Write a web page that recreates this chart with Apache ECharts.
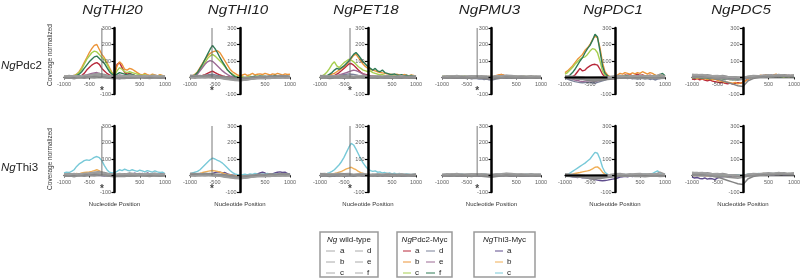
<!DOCTYPE html>
<html><head><meta charset="utf-8">
<script src="https://cdn.jsdelivr.net/npm/echarts@6/dist/echarts.min.js"></script>
<style>html,body{margin:0;padding:0;background:#fff}#c{width:800px;height:278px}</style>
</head><body><div id="c"></div>
<script>
// ---------- data ----------
const genes = ['THI20','THI10','PET18','PMU3','PDC1','PDC5'];
const rowNames = ['Pdc2','Thi3'];
const legendTitles = ['wild-type','Pdc2-Myc','Thi3-Myc'];
const wtLetters = ['a','b','c','d','e','f'];
const pdc2Letters = ['a','b','c','d','e','f'];
const thi3Letters = ['a','b','c'];
const xTickLabels = [-1000,-500,500,1000];
const yTickLabels = [300,200,100,-100];
const X21 = [-1000,-900,-800,-700,-600,-500,-400,-300,-200,-100,0,100,200,300,400,500,600,700,800,900,1000];
const X41 = [-1000,-950,-900,-850,-800,-750,-700,-650,-600,-550,-500,-450,-400,-350,-300,-250,-200,-150,-100,-50,0,50,100,150,200,250,300,350,400,450,500,550,600,650,700,750,800,850,900,950,1000];
const markerX = [-250,-560,-375,-290,null,null];
const asteriskY = -82;
const pdc1Bar = [-1000,-150];

// wild-type (6 series each, X21)
const wtTHI20 = [
 [5,8,3,10,6,12,15,20,18,8,4,6,10,5,8,12,6,9,4,7,5],
 [-3,2,0,5,3,8,10,12,8,3,-2,0,4,2,5,3,1,4,2,0,3],
 [10,6,12,8,14,10,18,15,12,10,6,12,8,15,10,6,12,10,14,8,10],
 [0,-4,2,-2,4,0,6,4,2,-3,-6,-2,0,-4,2,0,-2,3,0,-3,1],
 [6,12,8,4,10,15,20,25,15,10,8,4,6,10,4,8,5,10,6,4,8],
 [-6,-2,-8,0,-4,2,-2,5,0,-5,-8,-4,-6,-2,-5,0,-3,-6,-2,-5,-2]];
const wtTHI10 = [
 [10,12,8,14,10,6,8,4,0,-6,-10,-12,-8,-4,0,4,2,6,4,8,6],
 [4,6,2,8,5,0,2,-4,-8,-12,-15,-14,-10,-6,-2,0,-3,2,0,3,2],
 [-2,2,0,4,0,-4,-2,-8,-12,-15,-18,-16,-12,-8,-6,-4,-6,-2,-4,0,-2],
 [8,4,10,6,12,8,4,2,-2,-4,-8,-6,-2,0,4,2,6,3,5,2,4],
 [0,-3,2,-2,3,-2,-5,-10,-14,-18,-20,-15,-10,-8,-4,-6,-2,-4,0,-3,0],
 [14,10,12,8,6,4,2,0,-4,-8,-6,-2,2,4,8,6,10,8,12,10,8]];
const wtPET18 = [
 [6,4,8,5,10,6,8,4,6,3,5,8,4,6,3,5,2,4,6,3,5],
 [0,2,-2,3,0,4,2,-1,3,0,-2,2,0,3,-1,1,-2,0,2,-1,0],
 [10,12,8,10,14,10,12,8,10,12,8,6,10,8,12,6,8,10,6,8,10],
 [-4,-2,-6,-3,-1,-5,-2,-4,0,-3,-5,-2,-4,-1,-3,-5,-2,-4,-1,-3,-4],
 [3,6,4,8,5,2,6,3,5,8,4,2,5,3,6,2,4,6,3,5,2],
 [12,8,6,4,8,10,6,2,4,6,2,0,4,2,6,8,4,2,5,3,6]];
const wtPMU3 = [
 [4,2,6,3,5,2,4,6,3,5,2,4,6,8,5,3,6,4,2,5,3],
 [-2,0,-3,1,-1,-4,0,-2,1,-3,0,2,-1,3,0,-2,1,-1,0,-3,-1],
 [8,6,10,7,9,6,8,10,7,9,6,10,8,12,9,7,10,8,6,9,7],
 [0,-4,-2,-5,-1,-3,-6,-2,-4,-8,-10,-6,-3,-1,-4,-2,-5,-3,-1,-4,-2],
 [6,10,8,12,6,9,11,7,10,6,4,8,10,14,12,9,6,8,10,6,8],
 [2,-1,3,0,4,1,-2,2,0,3,5,2,-1,4,2,0,3,1,-1,2,0]];
const wtPDC1 = [
 [4,2,0,-4,-8,-10,-12,-8,-6,-4,0,2,4,2,6,3,5,2,4,3,6],
 [-2,-4,-6,-10,-14,-16,-18,-14,-10,-8,-4,-2,0,-3,0,-2,-4,-1,-3,-2,0],
 [8,6,4,2,-2,-4,-6,-2,0,2,6,8,6,10,8,6,9,7,10,8,6],
 [0,-2,-4,-8,-12,-20,-22,-18,-14,-10,-6,-4,-2,0,-2,2,0,-3,-1,0,-2],
 [10,8,6,4,0,-2,0,2,4,6,10,12,8,6,10,12,8,10,6,20,8],
 [-4,-6,-8,-6,-10,-12,-10,-14,-8,-6,-2,0,-4,-2,-6,-4,-8,-5,-3,-6,-4]];
const wtPDC5 = [
 [15,18,12,16,10,8,12,6,4,2,0,6,10,8,12,10,14,12,16,10,14],
 [10,6,8,4,2,-2,-6,-10,-14,-16,-10,-4,2,6,4,8,6,10,8,12,10],
 [20,16,18,14,10,12,8,4,0,-2,-4,2,6,10,8,12,10,14,12,8,10],
 [5,8,4,2,-4,-10,-20,-30,-40,-50,-55,-20,-6,0,4,2,6,4,8,6,4],
 [12,10,14,8,6,4,6,2,4,0,2,8,12,10,14,16,12,18,14,12,16],
 [0,2,-2,0,-4,-6,-4,-8,-10,-8,-6,-2,0,4,2,6,4,8,6,4,6]];

// NgPdc2-Myc (a..f, X41)
const pdc2THI20 = [
 [0,2,-2,3,2,5,8,12,25,45,60,75,85,90,80,55,40,25,15,10,20,80,90,60,30,20,25,18,12,10,8,5,10,4,2,6,4,0,5,2,0],
 [5,8,4,10,12,20,35,60,90,120,150,175,195,200,170,140,120,90,60,30,20,70,95,80,50,45,55,50,40,30,20,15,25,18,12,20,15,10,18,12,8],
 [4,6,3,8,10,18,30,50,80,110,130,150,160,155,140,120,110,80,50,25,15,40,60,50,35,30,35,30,25,20,15,12,18,10,8,14,10,6,12,8,5],
 [0,3,-2,4,2,6,8,5,10,12,15,18,22,25,20,15,10,6,4,2,0,-5,-8,-4,0,2,-2,0,3,-1,0,2,-3,0,2,-2,0,3,0,-2,0],
 [2,4,0,6,3,8,6,10,12,15,20,25,28,30,25,20,12,8,5,3,4,10,15,12,8,6,4,8,5,2,4,6,2,5,3,6,2,4,1,3,2],
 [2,5,0,6,8,12,20,35,55,75,95,110,125,130,115,100,85,60,35,20,10,20,30,25,20,15,20,18,12,10,8,6,10,5,4,8,6,3,6,4,2]];
const pdc2THI10 = [
 [0,2,-2,4,8,12,18,25,32,38,30,22,15,10,6,4,2,0,-2,-4,-6,-10,-8,-4,0,2,-2,3,0,4,2,-1,3,0,2,5,1,3,0,2,1],
 [5,10,20,35,60,85,110,130,145,155,160,162,150,125,100,75,50,35,25,15,10,15,20,12,18,25,15,20,22,18,25,20,15,22,18,25,20,15,22,18,20],
 [2,8,15,28,45,65,90,115,130,140,130,115,100,85,65,45,30,20,10,5,0,5,-2,4,8,3,6,10,5,8,4,6,2,5,8,3,6,4,7,2,5],
 [0,3,-1,4,6,8,12,15,18,20,16,12,8,5,2,0,-2,-5,-8,-10,-12,-15,-14,-10,-6,-4,-2,0,-3,2,0,-2,1,3,0,2,-1,1,3,0,2],
 [0,4,10,20,40,60,80,95,102,98,85,70,55,40,28,18,10,5,2,0,-5,-10,-12,-8,-5,-2,0,3,-2,2,5,0,3,-1,2,4,0,3,1,-2,2],
 [0,5,15,30,55,80,110,140,170,195,175,150,120,95,70,45,30,15,5,0,-5,-10,-8,-4,0,5,8,4,10,6,8,4,10,6,12,8,5,10,6,8,4]];
const pdc2PET18 = [
 [0,2,5,3,6,8,12,20,30,42,55,68,82,85,75,60,45,32,22,18,15,10,8,5,3,6,4,2,5,3,1,4,2,0,3,1,2,0,3,1,2],
 [5,8,12,10,15,20,25,35,45,55,65,80,95,115,135,140,120,100,80,65,55,50,45,40,35,30,28,25,22,20,18,15,20,16,12,18,14,10,15,12,8],
 [5,10,20,35,55,80,95,70,60,75,90,100,110,105,95,80,65,55,45,40,35,40,30,25,20,15,18,12,10,14,8,10,6,9,5,8,4,7,3,6,4],
 [0,2,4,3,6,5,8,10,12,15,18,20,22,20,18,15,12,10,8,5,3,2,0,3,-1,2,0,-2,1,3,0,2,-1,1,0,2,-1,0,1,-1,0],
 [2,5,3,8,6,10,8,12,15,20,25,30,35,40,45,42,35,28,20,15,10,8,6,10,5,8,4,6,3,5,2,4,1,3,5,2,4,1,3,2,0],
 [0,4,8,12,20,30,45,55,50,60,70,85,100,120,140,152,135,115,95,80,65,55,45,55,40,35,45,30,25,20,18,22,15,12,18,10,14,8,12,10,6]];
const pdc2PMU3 = [
 [0,2,-1,3,1,-2,2,0,3,-1,1,2,0,-2,3,1,0,2,-1,1,0,5,10,14,18,12,8,4,2,5,1,3,0,2,-1,3,1,0,2,-1,1],
 [4,6,2,5,8,3,6,4,7,2,5,3,6,4,8,5,3,6,4,7,5,8,12,15,18,14,10,8,6,9,5,7,4,6,3,5,8,4,6,3,5],
 [6,8,5,9,7,10,6,8,5,9,7,4,8,6,9,5,7,3,6,4,2,4,6,8,5,7,4,6,3,5,7,4,6,8,5,7,4,6,3,5,4],
 [-2,0,-3,1,-1,-4,0,-2,-5,-3,-6,-4,-8,-5,-7,-10,-8,-12,-10,-14,-16,-12,-8,-6,-4,-2,-5,-3,-1,-4,-2,0,-3,-1,-4,-2,0,-3,-1,-2,0],
 [3,1,4,2,5,3,1,4,2,5,3,6,4,2,5,3,1,4,2,0,-2,2,4,6,3,5,2,4,1,3,5,2,4,1,3,2,4,1,3,2,1],
 [2,4,1,5,3,6,2,4,7,3,5,2,4,6,3,5,2,4,1,3,0,3,5,7,4,6,3,5,2,4,6,3,5,2,4,1,3,5,2,4,2]];
const pdc2PDC1 = [
 [0,2,0,5,15,35,55,40,45,60,70,78,80,75,50,20,5,0,-5,-8,-5,5,10,8,15,12,18,10,14,20,12,16,10,8,14,10,6,12,8,4,10],
 [30,40,55,70,90,110,125,140,165,180,200,230,250,240,180,90,35,15,5,0,5,15,25,20,30,25,20,28,22,30,25,35,28,20,30,25,15,10,18,12,8],
 [20,30,45,60,80,95,110,120,125,140,160,175,170,150,100,40,15,5,0,-3,0,5,10,8,12,6,10,8,5,9,6,10,7,4,8,6,10,5,8,12,6],
 [-5,-10,-15,-20,-25,-28,-30,-32,-30,-28,-30,-32,-35,-30,-25,-20,-15,-10,-8,-5,-2,0,-3,-5,-2,-6,-4,-8,-5,-10,-6,-3,-8,-5,-12,-8,-15,-10,-6,-4,-2],
 [0,-3,-6,-10,-15,-18,-22,-25,-22,-20,-18,-22,-25,-20,-15,-10,-6,-3,0,2,0,-2,0,3,-1,2,-3,0,4,1,-2,2,0,-4,1,3,-1,2,0,-2,1],
 [0,5,15,30,50,75,100,120,150,175,195,225,262,245,160,70,25,10,0,-5,-8,0,5,10,6,12,8,4,10,6,12,8,5,10,4,8,12,6,18,25,10]];
const pdc2PDC5 = [
 [-8,-12,-6,-14,-10,-16,-20,-15,-22,-25,-28,-32,-30,-35,-38,-34,-40,-36,-32,-35,-28,-18,-8,2,6,10,4,8,12,6,10,14,8,12,6,10,14,8,12,6,8],
 [-5,-2,-8,-4,-10,-6,-12,-8,-15,-10,-18,-22,-25,-30,-28,-32,-35,-30,-38,-34,-30,-20,-10,0,5,10,8,14,10,18,12,8,15,20,12,16,10,14,8,12,10],
 [2,5,0,4,-2,3,-4,0,-6,-2,-8,-10,-6,-12,-8,-14,-10,-15,-12,-8,-10,-5,0,4,2,6,3,8,5,10,6,4,8,5,10,6,3,7,4,8,5],
 [10,14,8,12,6,10,4,8,2,6,0,4,-2,2,-4,0,-6,-2,-8,-4,-6,-2,2,6,4,8,6,10,8,12,10,14,12,10,14,12,16,12,14,10,12],
 [5,8,3,6,2,5,0,3,-2,1,-4,-1,-6,-3,-8,-5,-10,-6,-4,-8,-5,0,4,2,6,4,8,5,10,7,12,9,6,10,8,12,9,11,8,10,7],
 [0,-3,2,-2,-5,-1,-4,-8,-3,-6,-10,-5,-8,-12,-6,-10,-14,-8,-12,-10,-6,-2,3,0,5,2,7,4,9,6,3,8,5,10,6,4,8,5,9,6,4]];

// NgThi3-Myc (a..c, X41)
const thi3THI20 = [
 [2,4,0,3,1,5,2,4,0,3,6,2,4,1,3,0,-2,1,-1,0,-2,2,5,8,6,10,12,8,14,10,6,12,8,15,10,6,12,8,10,14,8],
 [5,8,4,10,8,12,10,15,18,20,22,25,30,35,28,20,12,8,5,3,2,5,8,4,10,6,12,8,5,9,6,3,7,4,8,5,2,6,3,5,2],
 [15,20,18,25,35,55,70,80,90,95,92,100,110,115,108,90,60,35,20,15,18,25,35,30,38,32,28,35,30,25,32,28,22,30,25,20,28,22,18,20,12]];
const thi3THI10 = [
 [0,2,-1,3,1,4,2,5,8,12,18,22,20,15,18,10,5,2,0,-2,-3,-1,2,4,0,3,6,10,15,20,15,8,5,10,15,20,22,18,20,12,6],
 [0,3,5,8,12,18,22,25,28,30,28,25,20,15,10,6,3,0,-2,0,-2,2,4,1,5,3,6,2,4,1,5,3,6,2,4,1,5,3,2,4,1],
 [10,15,20,25,35,50,65,80,95,105,100,92,85,75,60,45,30,18,10,5,2,5,8,4,10,6,12,8,5,10,6,12,8,5,9,6,10,7,4,8,5]];
const thi3PET18 = [
 [0,-2,1,-1,2,0,-3,1,-1,2,0,-2,1,3,0,-1,2,0,-2,1,0,2,-1,3,0,2,-2,1,3,0,-1,2,0,3,1,-2,0,2,-1,1,0],
 [0,2,5,3,8,10,12,15,20,25,32,40,45,50,42,35,25,18,12,8,5,3,6,2,5,8,4,6,3,5,2,4,6,3,5,2,4,1,3,5,2],
 [5,8,10,12,18,25,35,50,65,85,110,140,170,195,185,160,130,100,75,55,40,30,25,28,20,22,15,18,12,15,10,14,8,12,10,6,10,8,5,8,6]];
const thi3PMU3 = [
 [0,-2,1,-3,-1,2,-2,0,-4,-1,-3,0,-2,1,-3,-5,-2,-4,-1,-3,-4,-2,0,-3,1,-1,2,-2,0,-3,1,-1,-4,-2,0,-3,1,-1,2,-2,0],
 [2,0,3,1,-1,2,4,0,3,1,5,2,0,3,-1,2,4,1,3,0,-2,1,3,0,4,2,5,1,3,6,2,4,0,3,1,4,2,0,3,1,2],
 [4,6,3,7,5,8,4,6,9,5,7,4,8,6,3,7,5,9,6,4,2,5,8,6,10,7,4,8,5,9,6,3,7,4,8,5,9,6,4,7,5]];
const thi3PDC1 = [
 [0,-2,-5,-8,-10,-12,-10,-14,-12,-15,-18,-22,-25,-28,-30,-32,-30,-28,-25,-22,-20,-15,-10,-8,-5,-8,-4,-6,-2,-5,0,-3,-1,2,-2,0,3,-1,1,-2,0],
 [0,2,5,8,12,15,18,22,25,28,32,40,50,52,40,20,8,2,0,-2,0,2,4,1,5,3,6,2,4,7,3,5,2,6,4,1,5,3,6,2,4],
 [0,5,15,25,35,45,55,65,75,88,100,120,140,135,100,50,20,8,0,-2,0,2,5,3,6,4,8,5,3,7,4,6,10,5,8,12,20,28,15,8,5]];
const thi3PDC5 = [
 [-10,-15,-12,-18,-20,-15,-22,-18,-20,-25,-15,-10,-8,-5,-3,-6,-2,-4,0,-3,0,2,4,1,5,3,6,2,5,8,4,6,3,7,5,8,4,6,9,5,7],
 [2,0,3,-1,2,0,-2,1,3,0,-2,2,-1,3,0,2,-2,1,0,-1,2,4,6,3,8,5,10,7,12,9,6,10,8,12,9,14,10,8,12,10,8],
 [4,2,6,3,5,1,4,2,6,3,0,4,2,5,1,3,0,2,4,1,3,5,8,6,10,7,12,9,6,10,8,12,10,14,11,8,12,10,13,9,11]];

// ---------- styles / layout ----------
const wtColors = ['#8c8c8c','#979797','#a2a2a2','#848484','#9c9c9c','#8f8f8f'];
const pdc2Colors = ['#b8283a','#ec9438','#a6cf4e','#7b8199','#9c6a94','#2f7a55'];
const thi3Colors = ['#5e4c8c','#f0ae55','#78c9d8'];
const wtLegendColor = '#aaaaaa';
const FONT = '"Liberation Sans", Arial, Helvetica, sans-serif';
const colLeft = [64,190,320,442,565,692];
const colWidth = [101,100,96,99,100,102];
const rowTop = [28,126];
const rowH = 66;

const wtAll = [wtTHI20,wtTHI10,wtPET18,wtPMU3,wtPDC1,wtPDC5];
const pdc2All = [pdc2THI20,pdc2THI10,pdc2PET18,pdc2PMU3,pdc2PDC1,pdc2PDC5];
const thi3All = [thi3THI20,thi3THI10,thi3PET18,thi3PMU3,thi3PDC1,thi3PDC5];

const pairs = (xs, ys) => ys.map((y,i)=>[xs[i], y]);
const grids=[], xAxes=[], yAxes=[], series=[], graphics=[];
const tickLabelStyle = {fontSize:5.5,color:'#333',fontFamily:FONT};

for (let r=0;r<2;r++){
  for (let c=0;c<6;c++){
    const gi = r*6+c;
    grids.push({left:colLeft[c], top:rowTop[r], width:colWidth[c], height:rowH, containLabel:false, outerBoundsMode:'none', show:false});
    xAxes.push({gridIndex:gi, type:'value', min:-1000, max:1000, interval:500, z:1,
      axisLine:{show:true,onZero:true,lineStyle:{color:'#222',width:1.4}},
      axisTick:{show:true,length:2,lineStyle:{color:'#222',width:1}},
      axisLabel:{show:false}, splitLine:{show:false}});
    yAxes.push({gridIndex:gi, type:'value', min:-100, max:300, interval:100, z:6,
      axisLine:{show:true,onZero:true,lineStyle:{color:'#000',width:2.5}},
      axisTick:{show:true,length:3,lineStyle:{color:'#000',width:1.2}},
      axisLabel:{show:false}, splitLine:{show:false}});
    const col = r===0 ? pdc2All[c] : thi3All[c];
    const cols = r===0 ? pdc2Colors : thi3Colors;
    col.forEach((ys,k)=>series.push({type:'line',xAxisIndex:gi,yAxisIndex:gi,data:pairs(X41,ys),symbol:'none',silent:true,z:2,
      lineStyle:{color:cols[k],width:1.4}}));
    wtAll[c].forEach((ys,k)=>series.push({type:'line',xAxisIndex:gi,yAxisIndex:gi,data:pairs(X21,ys),symbol:'none',silent:true,z:3,
      lineStyle:{color:wtColors[k],width:1.5}}));
    // tick labels through the axes' scales
    series.push({type:'scatter',xAxisIndex:gi,yAxisIndex:gi,data:yTickLabels.map(v=>[0,v]),symbol:'circle',symbolSize:1,silent:true,z:7,
      itemStyle:{color:'rgba(0,0,0,0)'},
      label:Object.assign({show:true,position:'left',distance:3,formatter:p=>String(p.value[1])},tickLabelStyle)});
    series.push({type:'scatter',xAxisIndex:gi,yAxisIndex:gi,data:xTickLabels.map(v=>[v,0]),symbol:'circle',symbolSize:1,silent:true,z:7,
      itemStyle:{color:'rgba(0,0,0,0)'},
      label:Object.assign({show:true,position:'bottom',distance:3,formatter:p=>String(p.value[0])},tickLabelStyle)});
    if (markerX[c]!==null){
      series.push({type:'line',xAxisIndex:gi,yAxisIndex:gi,data:[[markerX[c],0],[markerX[c],300]],symbol:'none',silent:true,z:4,
        lineStyle:{color:'#6a6a6a',width:0.9}});
      series.push({type:'scatter',xAxisIndex:gi,yAxisIndex:gi,data:[[markerX[c],asteriskY]],symbol:'circle',symbolSize:1,silent:true,z:4,
        itemStyle:{color:'rgba(0,0,0,0)'},
        label:{show:true,position:'inside',formatter:'*',fontSize:10,fontWeight:'bold',color:'#111',fontFamily:FONT}});
    }
    if (c===4){
      series.push({type:'line',xAxisIndex:gi,yAxisIndex:gi,data:[[pdc1Bar[0],0],[pdc1Bar[1],0]],symbol:'none',silent:true,z:5,
        lineStyle:{color:'#000',width:1.8}});
    }
    const cx = colLeft[c] + colWidth[c]/2;
    if (r===0){
      graphics.push({type:'text',x:cx-2,y:10,scaleX:1.12,style:{text:'Ng'+genes[c],font:'italic 13.5px '+FONT,fill:'#222',textAlign:'center',textVerticalAlign:'middle',align:'center',verticalAlign:'middle'}});
    } else {
      graphics.push({type:'text',x:cx,y:204,style:{text:'Nucleotide Position',font:'6px '+FONT,fill:'#333',textAlign:'center',textVerticalAlign:'middle',align:'center',verticalAlign:'middle'}});
    }
  }
}
// row labels and y titles
const rowY = [66,168];
const yTitleY = [55,159];
for (let r=0;r<2;r++){
  graphics.push({type:'text',x:1,y:rowY[r],style:{text:'{i|Ng}{n|'+rowNames[r]+'}',rich:{i:{fontStyle:'italic',fontSize:11.5,fontFamily:FONT,fill:'#222'},n:{fontSize:11.5,fontFamily:FONT,fill:'#222'}},textAlign:'left',textVerticalAlign:'middle',align:'left',verticalAlign:'middle'}});
  graphics.push({type:'text',x:50,y:yTitleY[r],rotation:Math.PI/2,style:{text:'Coverage normalized',font:'6.5px '+FONT,fill:'#333',textAlign:'center',textVerticalAlign:'middle',align:'center',verticalAlign:'middle'}});
}
// legend boxes
const boxes = [
  {x:320,w:58,letters:wtLetters,colors:wtLetters.map(()=>wtLegendColor),cols:[[326,335,340],[355,363,367]]},
  {x:397,w:55,letters:pdc2Letters,colors:pdc2Colors,cols:[[403,411,415],[426,435,439]]},
  {x:474,w:61,letters:thi3Letters,colors:thi3Colors,cols:[[495,503,507]]}];
const itemY = [251,262,273];
boxes.forEach((b,bi)=>{
  graphics.push({type:'rect',shape:{x:b.x,y:232,width:b.w,height:45},style:{fill:'none',stroke:'#9a9a9a',lineWidth:1.5}});
  graphics.push({type:'text',x:b.x+b.w/2,y:240,style:{text:'{i|Ng}{n|'+(bi===0?' ':'')+legendTitles[bi]+'}',rich:{i:{fontStyle:'italic',fontSize:8,fontFamily:FONT,fill:'#222'},n:{fontSize:8,fontFamily:FONT,fill:'#222'}},textAlign:'center',textVerticalAlign:'middle',align:'center',verticalAlign:'middle'}});
  b.letters.forEach((L,k)=>{
    const cc = b.cols[Math.floor(k/3)];
    const y = itemY[k%3];
    graphics.push({type:'line',shape:{x1:cc[0],y1:y,x2:cc[1],y2:y},style:{stroke:b.colors[k],lineWidth:1}});
    graphics.push({type:'text',x:cc[2],y:y,style:{text:L,font:'8px '+FONT,fill:'#222',textAlign:'left',textVerticalAlign:'middle',align:'left',verticalAlign:'middle'}});
  });
});

const chart = echarts.init(document.getElementById('c'),null,{renderer:'canvas'});
chart.setOption({animation:false,backgroundColor:'#fff',grid:grids,xAxis:xAxes,yAxis:yAxes,series:series,graphic:graphics});
</script></body></html>
